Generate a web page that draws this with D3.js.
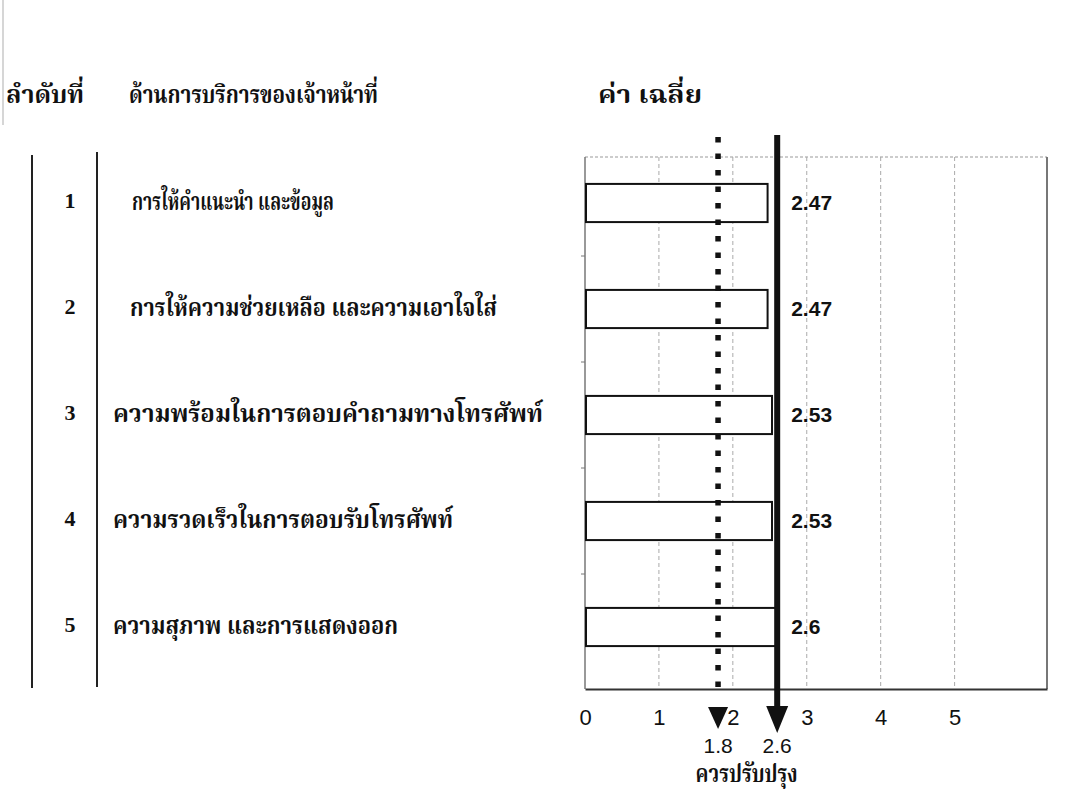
<!DOCTYPE html>
<html>
<head>
<meta charset="utf-8">
<script src="https://cdn.jsdelivr.net/npm/d3@7"></script>
<style>
  html, body { margin: 0; padding: 0; background: #fff; }
  svg { display: block; }
  .thai { font-family: "Noto Serif Thai", "Noto Sans Thai", "Norasi", "Kinnari", "Garuda", "Loma", "Tlwg Typo", serif; font-weight: bold; fill: #111; }
  .num { font-family: "Liberation Serif", "Times New Roman", serif; font-weight: bold; fill: #111; }
  .sans { font-family: "Liberation Sans", Arial, sans-serif; fill: #111; }
</style>
</head>
<body>
<svg id="chart" width="1076" height="797"></svg>
<script>
// Service-quality ratings for front-desk staff
const ranks = ["1", "2", "3", "4", "5"];
const categories = [
  "การให้คำแนะนำ และข้อมูล",
  "การให้ความช่วยเหลือ และความเอาใจใส่",
  "ความพร้อมในการตอบคำถามทางโทรศัพท์",
  "ความรวดเร็วในการตอบรับโทรศัพท์",
  "ความสุภาพ และการแสดงออก"
];
const means = [2.47, 2.47, 2.53, 2.53, 2.6];
const xTicks = [0, 1, 2, 3, 4, 5];
const lowerCutoff = 1.8;   // dotted reference
const upperCutoff = 2.6;   // solid reference
const headers = ["ลำดับที่", "ด้านการบริการของเจ้าหน้าที่", "ค่า เฉลี่ย"];
const cutoffCaption = "ควรปรับปรุง";

const svg = d3.select("#chart");

const plot = { left: 585, right: 1047, top: 157, bottom: 689 };

const x = d3.scaleLinear().domain([0, 6.25]).range([plot.left, plot.right]);
const y = d3.scaleBand().domain(ranks).range([150, 680]).paddingInner(0.64).paddingOuter(0.32);
const rowBase = d => y(d) + y.bandwidth() / 2 + 5;

// Thai label with a fixed set width
function thaiText(parent, px, py, size, width, str, anchor) {
  return parent.append("text").attr("class", "thai")
    .attr("x", px).attr("y", py).attr("font-size", size)
    .attr("text-anchor", anchor || "start")
    .attr("textLength", width).attr("lengthAdjust", "spacingAndGlyphs")
    .text(str);
}

// faint edge line at the far left
svg.append("line").attr("x1", 3).attr("x2", 3).attr("y1", 0).attr("y2", 125)
  .attr("stroke", "#bbb").attr("stroke-width", 1.2);

// column headers
thaiText(svg, 6, 103, 25, 78, headers[0]);
thaiText(svg, 129, 103, 25, 249, headers[1]);
thaiText(svg, 598, 103, 25, 104, headers[2]);

// table rules on the left
svg.append("line").attr("x1", 32).attr("x2", 32).attr("y1", 155).attr("y2", 688)
  .attr("stroke", "#222").attr("stroke-width", 2);
svg.append("line").attr("x1", 97).attr("x2", 97).attr("y1", 152).attr("y2", 687)
  .attr("stroke", "#222").attr("stroke-width", 2);

// rank numbers and category names
svg.selectAll("text.rank").data(ranks).join("text")
  .attr("class", "num rank").attr("x", 70).attr("y", rowBase)
  .attr("text-anchor", "middle").attr("font-size", 22).text(d => d);
const catStart = [132, 130, 113, 113, 113];
const catWidth = [202, 367, 430, 340, 285];
categories.forEach((c, i) => {
  thaiText(svg, catStart[i], rowBase(ranks[i]) + 2, 24, catWidth[i], c);
});

// plot frame and gridlines
const g = svg.append("g");
g.append("line").attr("x1", plot.left).attr("x2", plot.right).attr("y1", plot.top).attr("y2", plot.top)
  .attr("stroke", "#999").attr("stroke-width", 1.2).attr("stroke-dasharray", "3,2");
g.append("line").attr("x1", plot.right).attr("x2", plot.right).attr("y1", plot.top).attr("y2", plot.bottom)
  .attr("stroke", "#777").attr("stroke-width", 2);
g.append("line").attr("x1", plot.left).attr("x2", plot.left).attr("y1", plot.top).attr("y2", plot.bottom)
  .attr("stroke", "#777").attr("stroke-width", 1.5);
g.selectAll("line.grid").data(xTicks.filter(t => t > 0)).join("line")
  .attr("class", "grid")
  .attr("x1", d => x(d)).attr("x2", d => x(d))
  .attr("y1", plot.top).attr("y2", plot.bottom)
  .attr("stroke", "#aaa").attr("stroke-width", 1).attr("stroke-dasharray", "4,3");

// small ticks between categories on the left edge
const rowStep = y.step();
g.selectAll("line.ytick").data(ranks.slice(1)).join("line")
  .attr("class", "ytick")
  .attr("x1", plot.left - 4).attr("x2", plot.left)
  .attr("y1", d => y(d) - rowStep * 0.32).attr("y2", d => y(d) - rowStep * 0.32)
  .attr("stroke", "#777").attr("stroke-width", 1);

// bottom axis
const xAxis = d3.axisBottom(x).tickValues(xTicks).tickFormat(d3.format("d")).tickSize(0).tickPadding(20);
const axisG = svg.append("g").attr("transform", `translate(0,${plot.bottom})`).call(xAxis);
axisG.select(".domain").attr("stroke", "#333").attr("stroke-width", 2);
axisG.selectAll("text").attr("class", "sans").attr("font-size", 22).attr("fill", "#111");

// bars
svg.selectAll("rect.bar").data(means).join("rect")
  .attr("class", "bar")
  .attr("x", x(0) + 1)
  .attr("y", (d, i) => y(ranks[i]))
  .attr("width", d => x(d) - x(0) - 1)
  .attr("height", y.bandwidth())
  .attr("fill", "#fff").attr("stroke", "#111").attr("stroke-width", 2);

// value labels beside the solid reference line
svg.selectAll("text.val").data(means).join("text")
  .attr("class", "sans val")
  .attr("x", x(upperCutoff) + 14)
  .attr("y", (d, i) => y(ranks[i]) + y.bandwidth() / 2 + 7)
  .attr("font-size", 21).attr("font-weight", "bold").text(d => d);

// dotted reference line with arrowhead
const dotX = x(lowerCutoff);
svg.append("line").attr("x1", dotX).attr("x2", dotX).attr("y1", 137).attr("y2", 698)
  .attr("stroke", "#111").attr("stroke-width", 5.5).attr("stroke-dasharray", "5.5,11");
svg.append("path")
  .attr("d", `M${dotX - 10},707 L${dotX + 10},707 L${dotX},729 Z`).attr("fill", "#111");

// solid reference line with arrowhead
const solX = x(upperCutoff);
svg.append("line").attr("x1", solX).attr("x2", solX).attr("y1", 135).attr("y2", 712)
  .attr("stroke", "#111").attr("stroke-width", 6);
svg.append("path")
  .attr("d", `M${solX - 11},706 L${solX + 11},706 L${solX},733 Z`).attr("fill", "#111");

// cutoff values and caption
svg.selectAll("text.cut").data([lowerCutoff, upperCutoff]).join("text")
  .attr("class", "sans cut").attr("x", d => x(d)).attr("y", 753)
  .attr("text-anchor", "middle").attr("font-size", 21).text(d => d);
thaiText(svg, (dotX + solX) / 2 - 1, 782, 24, 102, cutoffCaption, "middle");
</script>
</body>
</html>
